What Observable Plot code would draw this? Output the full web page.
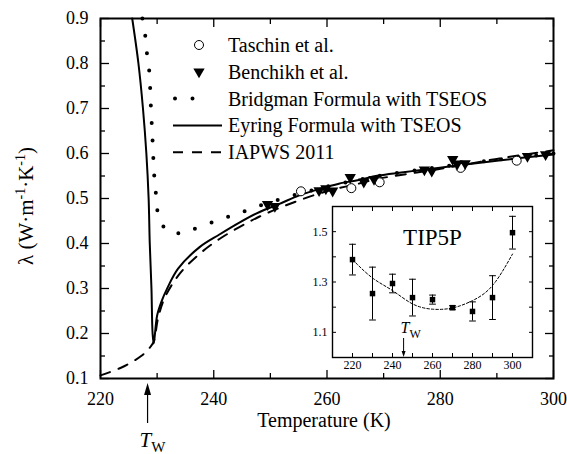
<!DOCTYPE html>
<html><head><meta charset="utf-8">
<script src="https://cdn.jsdelivr.net/npm/d3@7"></script>
<script src="https://cdn.jsdelivr.net/npm/@observablehq/plot@0.6"></script>
<style>
html,body{margin:0;padding:0;background:#fff;}
#chart{position:relative;width:567px;height:454px;overflow:hidden;}
</style></head>
<body><div id="chart"></div>
<script>
// pick an installed serif face (falls back to a sans face)
const serifCandidates = ["Liberation Serif","Times New Roman","Tinos","DejaVu Serif","Noto Serif","FreeSerif","Nimbus Roman","Georgia"];
function hasFont(name) {
  const c = document.createElement("canvas").getContext("2d");
  const s = "Temperature Wmlij 0123456789";
  let diff = false;
  for (const base of ["monospace", "sans-serif"]) {
    c.font = `40px ${base}`; const w0 = c.measureText(s).width;
    c.font = `40px "${name}", ${base}`; const w1 = c.measureText(s).width;
    if (Math.abs(w1 - w0) > 0.5) diff = true;
  }
  return diff;
}
const serifFound = serifCandidates.find(hasFont);
const FONT = serifFound ? `"${serifFound}", serif` : `"Liberation Sans", "DejaVu Sans", sans-serif`;
const K = serifFound ? 1 : 0.9;

// ---- main panel data ----
const eyringT = [225.6,226.7,227.5,228.1,228.5,228.7,229.0,229.2,229.4,230.0,230.8,231.7,233.7,237.5,241.0,244.6,248.1,251.6,255.1,258.6,262.1,265.6,269.1,279.6,290.0,300.0];
const eyringL = [0.900,0.800,0.700,0.600,0.500,0.400,0.300,0.200,0.178,0.240,0.272,0.298,0.344,0.392,0.420,0.447,0.470,0.488,0.507,0.521,0.533,0.541,0.551,0.568,0.584,0.598];
const iapwsT = [220.0,223.8,227.3,228.8,229.4,230.2,231.4,234.0,237.5,241.0,244.6,248.1,251.6,255.1,258.6,262.1,265.6,269.1,279.6,290.0,300.0];
const iapwsL = [0.107,0.125,0.151,0.170,0.182,0.236,0.281,0.333,0.377,0.410,0.437,0.460,0.479,0.496,0.511,0.523,0.533,0.544,0.565,0.588,0.607];
const bridgT = [227.4,227.9,228.2,228.6,228.9,229.2,229.5,229.8,230.2,231.0,231.7,233.0,234.6,236.0,237.8,240.8,243.9,246.8,250.0,253.3,257.0,262.0,270.0,280.0,290.0,300.0];
const bridgL = [0.900,0.862,0.823,0.784,0.704,0.627,0.549,0.509,0.463,0.440,0.428,0.423,0.424,0.430,0.438,0.452,0.465,0.478,0.492,0.504,0.517,0.532,0.552,0.570,0.586,0.600];
const taschinT = [255.4,264.3,269.3,283.6,293.5];
const taschinL = [0.516,0.523,0.536,0.568,0.584];
const benchT = [249.5,250.8,258.6,259.8,261.0,264.1,266.5,268.3,277.2,278.5,282.2,283.0,284.4,295.4,298.6];
const benchL = [0.487,0.483,0.518,0.522,0.517,0.547,0.537,0.543,0.564,0.561,0.587,0.577,0.578,0.594,0.598];
const xMajorMain = [220,240,260,280,300];
const xMinorMain = [230,250,270,290];
const yMajorMain = [0.1,0.2,0.3,0.4,0.5,0.6,0.7,0.8,0.9];
const yMinorMain = [0.15,0.25,0.35,0.45,0.55,0.65,0.75,0.85];
const twMain = 228.4;
const legendLabels = ["Taschin et al.","Benchikh et al.","Bridgman Formula with TSEOS","Eyring Formula with TSEOS","IAPWS 2011"];

// ---- inset data (TIP5P) ----
const tipT = [220,230,240,250,260,270,280,290,300];
const tipL = [1.389,1.254,1.294,1.238,1.230,1.198,1.183,1.238,1.496];
const tipErr = [0.061,0.105,0.037,0.073,0.018,0.008,0.038,0.087,0.065];
const fitT = [220,230,240,250,260,270,280,290,300];
const fitL = [1.389,1.316,1.266,1.213,1.192,1.197,1.226,1.286,1.411];
const xLabInset = [220,240,260,280,300];
const xTickInset = [210,220,230,240,250,260,270,280,290,300,310];
const yLabInset = [1.1,1.3,1.5];
const yTickInset = [1.0,1.1,1.2,1.3,1.4,1.5,1.6];
const twInset = 245.8;

const rows = (T, L) => T.map((t, i) => ({T: t, L: L[i]}));
const downTri = {draw(ctx, size) {
  const y = Math.sqrt(size / (3 * Math.sqrt(3)));
  ctx.moveTo(0, 2 * y); ctx.lineTo(-Math.sqrt(3) * y, -y); ctx.lineTo(Math.sqrt(3) * y, -y); ctx.closePath();
}};
const capSym = {draw(ctx, size) { const w = Math.sqrt(size); ctx.moveTo(-w, 0); ctx.lineTo(w, 0); }};

const main = Plot.plot({
  width: 567, height: 454,
  marginLeft: 100, marginRight: 14, marginTop: 18, marginBottom: 76,
  x: {domain: [220, 300]},
  y: {domain: [0.1, 0.9]},
  style: {fontFamily: FONT, fontSize: `${18 * K}px`, color: "black", background: "white", overflow: "visible"},
  marks: [
    Plot.axisX(xMajorMain, {anchor: "bottom", tickSize: -8, fill: "none", strokeWidth: 1.3}),
    Plot.axisX(xMinorMain, {anchor: "bottom", tickSize: -5, fill: "none", strokeWidth: 1.3}),
    Plot.axisX(xMajorMain, {anchor: "top", tickSize: -8, fill: "none", strokeWidth: 1.3}),
    Plot.axisX(xMinorMain, {anchor: "top", tickSize: -5, fill: "none", strokeWidth: 1.3}),
    Plot.axisY(yMajorMain, {anchor: "left", tickSize: -9, fill: "none", strokeWidth: 1.3}),
    Plot.axisY(yMinorMain, {anchor: "left", tickSize: -5, fill: "none", strokeWidth: 1.3}),
    Plot.axisY(yMajorMain, {anchor: "right", tickSize: -9, fill: "none", strokeWidth: 1.3}),
    Plot.axisY(yMinorMain, {anchor: "right", tickSize: -5, fill: "none", strokeWidth: 1.3}),
    Plot.axisX(xMajorMain, {anchor: "bottom", tickSize: 0, tickPadding: 14, label: null, fontSize: 18 * K}),
    Plot.axisY(yMajorMain, {anchor: "left", tickSize: 0, tickPadding: 12, label: null, fontSize: 18 * K, tickFormat: d3.format(".1f")}),
    Plot.line(rows(iapwsT, iapwsL), {x: "T", y: "L", curve: "catmull-rom", stroke: "black", strokeWidth: 2, strokeDasharray: "10,9"}),
    Plot.line(rows(eyringT, eyringL), {x: "T", y: "L", curve: "catmull-rom", stroke: "black", strokeWidth: 2}),
    Plot.line(rows(bridgT, bridgL), {x: "T", y: "L", curve: "catmull-rom", stroke: "black", strokeWidth: 4, strokeDasharray: "0,17.5", strokeLinecap: "round"}),
    Plot.dot(rows(taschinT, taschinL), {x: "T", y: "L", r: 4.5, stroke: "black", fill: "white", strokeWidth: 1}),
    Plot.dot(rows(benchT, benchL), {x: "T", y: "L", r: 4.2, symbol: downTri, fill: "black"}),
    Plot.frame({strokeWidth: 2})
  ]
});

const inset = Plot.plot({
  width: 240, height: 180,
  marginLeft: 32, marginRight: 8, marginTop: 6, marginBottom: 23,
  x: {domain: [210, 310]},
  y: {domain: [1.0, 1.6]},
  style: {fontFamily: FONT, fontSize: `${12 * K}px`, color: "black", background: "transparent", overflow: "visible"},
  marks: [
    Plot.axisX(xTickInset, {anchor: "bottom", tickSize: -4, fill: "none"}),
    Plot.axisX(xTickInset, {anchor: "top", tickSize: -4, fill: "none"}),
    Plot.axisY(yTickInset, {anchor: "left", tickSize: -4, fill: "none"}),
    Plot.axisY(yTickInset, {anchor: "right", tickSize: -4, fill: "none"}),
    Plot.axisX(xLabInset, {anchor: "bottom", tickSize: 0, tickPadding: 3, label: null, fontSize: 12 * K}),
    Plot.axisY(yLabInset, {anchor: "left", tickSize: 0, tickPadding: 5, label: null, fontSize: 12 * K, tickFormat: d3.format(".1f")}),
    Plot.line(rows(fitT, fitL), {x: "T", y: "L", curve: "natural", stroke: "black", strokeWidth: 1, strokeDasharray: "2.5,2"}),
    Plot.ruleX(tipT.map((t, i) => ({T: t, lo: tipL[i] - tipErr[i], hi: tipL[i] + tipErr[i]})), {x: "T", y1: "lo", y2: "hi", stroke: "black", strokeWidth: 1}),
    Plot.dot(tipT.map((t, i) => ({T: t, v: tipL[i] - tipErr[i]})), {x: "T", y: "v", r: 1.9, symbol: capSym, stroke: "black", strokeWidth: 1}),
    Plot.dot(tipT.map((t, i) => ({T: t, v: tipL[i] + tipErr[i]})), {x: "T", y: "v", r: 1.9, symbol: capSym, stroke: "black", strokeWidth: 1}),
    Plot.dot(rows(tipT, tipL), {x: "T", y: "L", r: 3.1, symbol: "square", fill: "black"}),
    Plot.text(["TIP5P"], {text: d => d, frameAnchor: "top", dy: 22, fontSize: 23 * K}),
    Plot.frame({strokeWidth: 1.4})
  ]
});

const chart = document.getElementById("chart");
chart.appendChild(main);
inset.style.position = "absolute";
inset.style.left = "300px";
inset.style.top = "200px";
chart.appendChild(inset);

// ---- annotations ----
const svg = d3.select(main);
const xm = main.scale("x");
const xT = xm.apply(twMain);
svg.append("line").attr("x1", xT).attr("x2", xT).attr("y1", 423).attr("y2", 392)
  .attr("stroke", "black").attr("stroke-width", 1.2);
svg.append("path").attr("d", `M${xT},383L${xT - 3.5},395L${xT + 3.5},395Z`).attr("fill", "black");
const tw = svg.append("text").attr("x", xT - 8).attr("y", 447).attr("text-anchor", "start")
  .attr("font-family", FONT).attr("font-size", 21 * K).attr("fill", "black");
tw.append("tspan").attr("font-style", "italic").text("T");
tw.append("tspan").attr("font-size", 15 * K).attr("dy", 5).text("W");

svg.append("text").attr("x", 324).attr("y", 427).attr("text-anchor", "middle")
  .attr("font-family", FONT).attr("font-size", 20 * K).attr("fill", "black").text("Temperature (K)");

const yl = svg.append("text").attr("transform", "translate(33,206) rotate(-90)").attr("text-anchor", "middle")
  .attr("font-family", FONT).attr("font-size", 21 * K).attr("fill", "black");
yl.append("tspan").text("λ (W·m");
yl.append("tspan").attr("font-size", 14 * K).attr("dy", -8).text("-1");
yl.append("tspan").attr("dy", 8).text("·K");
yl.append("tspan").attr("font-size", 14 * K).attr("dy", -8).text("-1");
yl.append("tspan").attr("dy", 8).text(")");

// legend
const lg = svg.append("g").attr("font-family", FONT).attr("font-size", 20 * K).attr("text-anchor", "start");
legendLabels.forEach((lab, i) => {
  const y = 45 + i * 26.8;
  lg.append("text").attr("x", 228).attr("y", y + 7).attr("text-anchor", "start").attr("fill", "black").text(lab);
  if (i === 0) lg.append("circle").attr("cx", 199).attr("cy", y).attr("r", 4.5).attr("fill", "white").attr("stroke", "black");
  if (i === 1) lg.append("path").attr("transform", `translate(199,${y})`).attr("d", d3.symbol(downTri, Math.PI * 4.2 * 4.2)()).attr("fill", "black");
  if (i >= 2) {
    const l = lg.append("line").attr("x1", i === 2 ? 175 : 173).attr("x2", i === 2 ? 210 : 222).attr("y1", y).attr("y2", y).attr("stroke", "black");
    if (i === 2) l.attr("stroke-width", 4).attr("stroke-dasharray", "0,17.5").attr("stroke-linecap", "round");
    if (i === 3) l.attr("stroke-width", 2);
    if (i === 4) l.attr("stroke-width", 2).attr("stroke-dasharray", "10,9");
  }
});

// inset T_W annotation
const isv = d3.select(inset);
const xi = inset.scale("x");
const xTi = xi.apply(twInset);
isv.append("line").attr("x1", xTi).attr("x2", xTi).attr("y1", 138).attr("y2", 152).attr("stroke", "black").attr("stroke-width", 1);
isv.append("path").attr("d", `M${xTi},157L${xTi - 2},151L${xTi + 2},151Z`).attr("fill", "black");
const twi = isv.append("text").attr("x", xTi - 3).attr("y", 133).attr("text-anchor", "start")
  .attr("font-family", FONT).attr("font-size", 16 * K).attr("fill", "black");
twi.append("tspan").attr("font-style", "italic").text("T");
twi.append("tspan").attr("font-size", 12 * K).attr("dy", 5).text("W");
</script>
</body></html>
